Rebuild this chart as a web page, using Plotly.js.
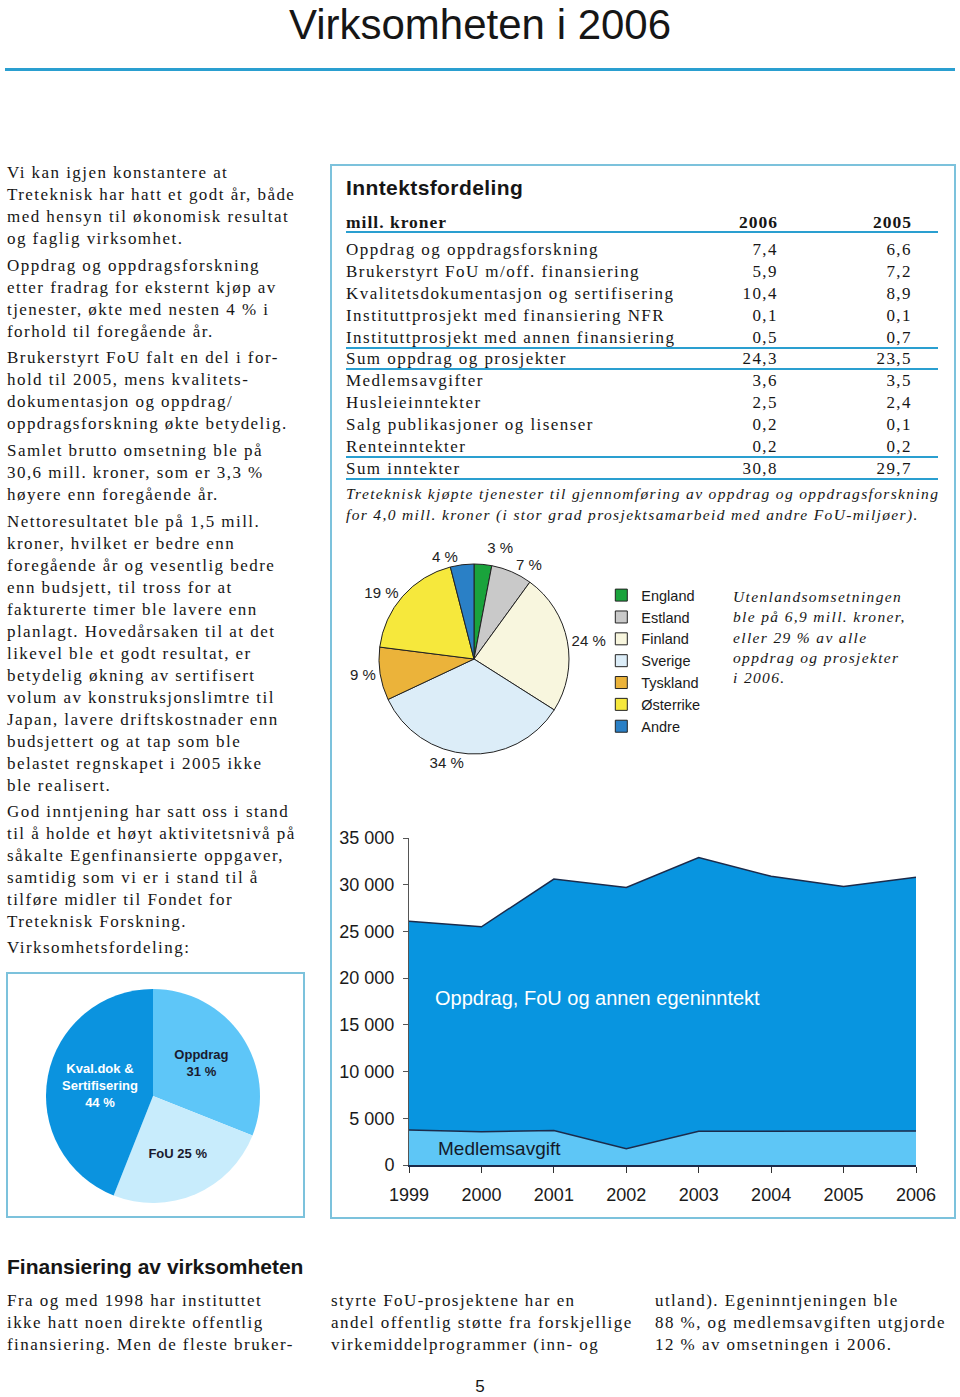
<!DOCTYPE html>
<html>
<head>
<meta charset="utf-8">
<script src="https://cdn.plot.ly/plotly-3.0.1.min.js"></script>
<style>
  html, body { margin:0; padding:0; background:#fff; }
  #page { position:relative; width:960px; height:1397px; overflow:hidden; background:#fff; color:#161616; }
  .abs { position:absolute; white-space:nowrap; }
  .serif { font-family:"Liberation Serif","DejaVu Serif",serif; font-size:17px; letter-spacing:1.45px; line-height:22px; }
  .sans { font-family:"Liberation Sans",Arial,sans-serif; }
  .box { position:absolute; border:2px solid #7cc2dc; box-sizing:border-box; }
  .hline { position:absolute; height:2px; background:#2a9fd0; }
  .row { position:absolute; left:346px; width:592px; height:22px; line-height:22px; }
  .row .lab { position:absolute; left:0; }
  .row .v1 { position:absolute; right:160px; }
  .row .v2 { position:absolute; right:26px; }
  .note { font-family:"Liberation Serif","DejaVu Serif",serif; font-style:italic; font-size:15.5px; letter-spacing:1.35px; }
  #pieAbroad path.textline { display:none !important; }
</style>
</head>
<body>
<div id="page">
  <div class="abs sans" style="left:0;width:960px;text-align:center;top:0;font-size:42px;line-height:50px;">Virksomheten i 2006</div>
  <div class="abs" style="left:5px;top:68px;width:950px;height:3px;background:#2a9fd0;"></div>

  <div class="abs serif" style="left:7px;top:162px;">Vi kan igjen konstantere at<br>Treteknisk har hatt et godt år, både<br>med hensyn til økonomisk resultat<br>og faglig virksomhet.</div>
  <div class="abs serif" style="left:7px;top:255px;">Oppdrag og oppdragsforskning<br>etter fradrag for eksternt kjøp av<br>tjenester, økte med nesten 4 % i<br>forhold til foregående år.</div>
  <div class="abs serif" style="left:7px;top:347px;">Brukerstyrt FoU falt en del i for-<br>hold til 2005, mens kvalitets-<br>dokumentasjon og oppdrag/<br>oppdragsforskning økte betydelig.</div>
  <div class="abs serif" style="left:7px;top:440px;">Samlet brutto omsetning ble på<br>30,6 mill. kroner, som er 3,3 %<br>høyere enn foregående år.</div>
  <div class="abs serif" style="left:7px;top:511px;">Nettoresultatet ble på 1,5 mill.<br>kroner, hvilket er bedre enn<br>foregående år og vesentlig bedre<br>enn budsjett, til tross for at<br>fakturerte timer ble lavere enn<br>planlagt. Hovedårsaken til at det<br>likevel ble et godt resultat, er<br>betydelig økning av sertifisert<br>volum av konstruksjonslimtre til<br>Japan, lavere driftskostnader enn<br>budsjettert og at tap som ble<br>belastet regnskapet i 2005 ikke<br>ble realisert.</div>
  <div class="abs serif" style="left:7px;top:801px;">God inntjening har satt oss i stand<br>til å holde et høyt aktivitetsnivå på<br>såkalte Egenfinansierte oppgaver,<br>samtidig som vi er i stand til å<br>tilføre midler til Fondet for<br>Treteknisk Forskning.</div>
  <div class="abs serif" style="left:7px;top:937px;">Virksomhetsfordeling:</div>

  <div class="box" style="left:6px;top:972px;width:299px;height:246px;"></div>
  <div class="box" style="left:330px;top:164px;width:626px;height:1055px;"></div>

  <div class="abs sans" style="left:346px;top:176px;font-size:21px;font-weight:bold;line-height:24px;letter-spacing:0.4px;">Inntektsfordeling</div>
  <div id="table"></div>

  <div class="abs note" style="left:346px;top:483px;line-height:21px;">Treteknisk kjøpte tjenester til gjennomføring av oppdrag og oppdragsforskning<br>for 4,0 mill. kroner (i stor grad prosjektsamarbeid med andre FoU-miljøer).</div>

  <div class="abs note" style="left:733px;top:587px;line-height:20.3px;">Utenlandsomsetningen<br>ble på 6,9 mill. kroner,<br>eller 29 % av alle<br>oppdrag og prosjekter<br>i 2006.</div>

  <div id="pieAbroad" class="abs" style="left:335px;top:535px;width:420px;height:240px;"></div>
  <div id="areaChart" class="abs" style="left:333px;top:820px;width:620px;height:390px;"></div>
  <div id="pieActivity" class="abs" style="left:10px;top:976px;width:291px;height:238px;"></div>

  <div class="abs sans" style="left:7px;top:1255px;font-size:21px;font-weight:bold;line-height:24px;letter-spacing:0px;">Finansiering av virksomheten</div>
  <div class="abs serif" style="left:7px;top:1290px;">Fra og med 1998 har instituttet<br>ikke hatt noen direkte offentlig<br>finansiering. Men de fleste bruker-</div>
  <div class="abs serif" style="left:331px;top:1290px;">styrte FoU-prosjektene har en<br>andel offentlig støtte fra forskjellige<br>virkemiddelprogrammer (inn- og</div>
  <div class="abs serif" style="left:655px;top:1290px;">utland). Egeninntjeningen ble<br>88 %, og medlemsavgiften utgjorde<br>12 % av omsetningen i 2006.</div>
  <div class="abs sans" style="left:0;width:960px;text-align:center;top:1376px;font-size:17px;line-height:22px;">5</div>
</div>

<script>
// ---------- Data ----------
// Inntektsfordeling table (mill. kroner)
const tableHeader = ["mill. kroner", "2006", "2005"];
const tableLabels = [
  "Oppdrag og oppdragsforskning",
  "Brukerstyrt FoU m/off. finansiering",
  "Kvalitetsdokumentasjon og sertifisering",
  "Instituttprosjekt med finansiering NFR",
  "Instituttprosjekt med annen finansiering",
  "Sum oppdrag og prosjekter",
  "Medlemsavgifter",
  "Husleieinntekter",
  "Salg publikasjoner og lisenser",
  "Renteinntekter",
  "Sum inntekter"
];
const values2006 = ["7,4", "5,9", "10,4", "0,1", "0,5", "24,3", "3,6", "2,5", "0,2", "0,2", "30,8"];
const values2005 = ["6,6", "7,2", "8,9", "0,1", "0,7", "23,5", "3,5", "2,4", "0,1", "0,2", "29,7"];

// Utenlandsomsetning pie (percent)
const countries = ["England", "Estland", "Finland", "Sverige", "Tyskland", "Østerrike", "Andre"];
const countryShares = [3, 7, 24, 34, 9, 19, 4];

// Revenue development (1000 kr)
const years = [1999, 2000, 2001, 2002, 2003, 2004, 2005, 2006];
const medlemsavgift = [3750, 3550, 3700, 1750, 3600, 3600, 3600, 3650];
const egeninntekt = [22350, 21950, 26900, 27950, 29300, 27300, 26200, 27150];
const areaSeriesNames = ["Medlemsavgift", "Oppdrag, FoU og annen egeninntekt"];

// Virksomhetsfordeling pie (percent)
const activities = ["Oppdrag", "FoU", "Kval.dok & Sertifisering"];
const activityShares = [31, 25, 44];
const activityText = ["Oppdrag<br>31 %", "FoU 25 %", "Kval.dok &<br>Sertifisering<br>44 %"];

// ---------- Table (HTML) ----------
(function buildTable() {
  const t = document.getElementById('table');
  const rowCenters = [222, 250, 272, 294, 316, 338, 359, 381, 403, 425, 447, 469];
  const lineYs = [232, 348, 369, 457, 479];
  let html = '';
  html += '<div class="row" style="top:' + (rowCenters[0] - 11) + 'px;font-family:\'Liberation Serif\',serif;font-weight:bold;font-size:17.5px;letter-spacing:1px;">' +
    '<span class="lab">' + tableHeader[0] + '</span><span class="v1">' + tableHeader[1] + '</span><span class="v2">' + tableHeader[2] + '</span></div>';
  tableLabels.forEach((lab, i) => {
    html += '<div class="row serif" style="top:' + (rowCenters[i + 1] - 11) + 'px;">' +
      '<span class="lab">' + lab + '</span><span class="v1">' + values2006[i] + '</span><span class="v2">' + values2005[i] + '</span></div>';
  });
  lineYs.forEach(y => { html += '<div class="hline" style="left:346px;width:592px;top:' + (y - 1) + 'px;"></div>'; });
  t.innerHTML = html;
})();

const SANS = '"Liberation Sans", Arial, sans-serif';
const cfg = { displayModeBar: false, staticPlot: true };

// ---------- Pie: Utenlandsomsetning ----------
Plotly.newPlot('pieAbroad', [{
  type: 'pie',
  labels: countries,
  values: countryShares,
  text: countryShares.map(v => v + ' %'),
  textinfo: 'text',
  textposition: 'outside',
  sort: false,
  direction: 'clockwise',
  rotation: 0,
  hoverinfo: 'skip',
  marker: {
    colors: ['#1aa33c', '#c9c9c9', '#f8f6de', '#dcedf8', '#ebb33a', '#f6e83c', '#2a80c6'],
    line: { color: '#222222', width: 1 }
  },
  outsidetextfont: { family: SANS, size: 15, color: '#222' }
}], {
  width: 420, height: 240,
  margin: { l: 44, r: 186, t: 29, b: 21 },
  paper_bgcolor: 'rgba(0,0,0,0)',
  showlegend: true,
  legend: {
    x: 1.17, xanchor: 'left', y: 0.92, yanchor: 'top',
    font: { family: SANS, size: 14.5, color: '#1a1a1a' },
    bgcolor: 'rgba(0,0,0,0)', borderwidth: 0, traceorder: 'normal'
  }
}, cfg);

// ---------- Area chart ----------
Plotly.newPlot('areaChart', [
  {
    type: 'scatter', mode: 'lines', name: areaSeriesNames[0],
    x: years, y: medlemsavgift, stackgroup: 'one',
    fillcolor: '#5ec6f6', line: { color: '#1b2b4b', width: 1.5 }, hoverinfo: 'skip'
  },
  {
    type: 'scatter', mode: 'lines', name: areaSeriesNames[1],
    x: years, y: egeninntekt, stackgroup: 'one',
    fillcolor: '#0895e0', line: { color: '#1b2b4b', width: 1.5 }, hoverinfo: 'skip'
  }
], {
  width: 620, height: 390,
  margin: { l: 76, r: 37, t: 18, b: 45 },
  paper_bgcolor: 'rgba(0,0,0,0)', plot_bgcolor: 'rgba(0,0,0,0)',
  showlegend: false,
  separators: ', ',
  xaxis: {
    range: [1999, 2006], tickvals: years, ticktext: years.map(String),
    showgrid: false, zeroline: false, showline: true, linecolor: '#1b2b4b', linewidth: 2,
    ticks: 'outside', ticklen: 6, tickcolor: '#333', tickwidth: 1, ticklabelstandoff: 6,
    tickfont: { family: SANS, size: 18, color: '#1a1a1a' }
  },
  yaxis: {
    range: [0, 35000], dtick: 5000, tickformat: ',d',
    showgrid: false, zeroline: false, showline: true, linecolor: '#555', linewidth: 1,
    ticks: 'outside', ticklen: 5, tickcolor: '#555', ticklabelstandoff: 5,
    tickfont: { family: SANS, size: 18, color: '#1a1a1a' }
  },
  annotations: [
    { x: 1999.33, y: 17900, xref: 'x', yref: 'y', xanchor: 'left', yanchor: 'middle', showarrow: false,
      text: areaSeriesNames[1], font: { family: SANS, size: 20, color: '#ffffff' } },
    { x: 1999.37, y: 1800, xref: 'x', yref: 'y', xanchor: 'left', yanchor: 'middle', showarrow: false,
      text: areaSeriesNames[0], font: { family: SANS, size: 19, color: '#141a2a' } }
  ]
}, cfg);

// ---------- Pie: Virksomhetsfordeling ----------
Plotly.newPlot('pieActivity', [{
  type: 'pie',
  labels: activities,
  values: activityShares,
  text: activityText,
  textinfo: 'text',
  textposition: 'inside',
  insidetextorientation: 'horizontal',
  sort: false,
  direction: 'clockwise',
  rotation: 0,
  hoverinfo: 'skip',
  marker: { colors: ['#5ec6f8', '#c8ecfc', '#0b93df'], line: { width: 0 } },
  insidetextfont: { family: SANS, size: 13, color: ['#1a1a2e', '#1a1a2e', '#ffffff'], weight: 'bold' }
}], {
  width: 291, height: 238,
  margin: { l: 36, r: 41, t: 13, b: 11 },
  paper_bgcolor: 'rgba(0,0,0,0)',
  showlegend: false
}, cfg);
</script>
</body>
</html>
